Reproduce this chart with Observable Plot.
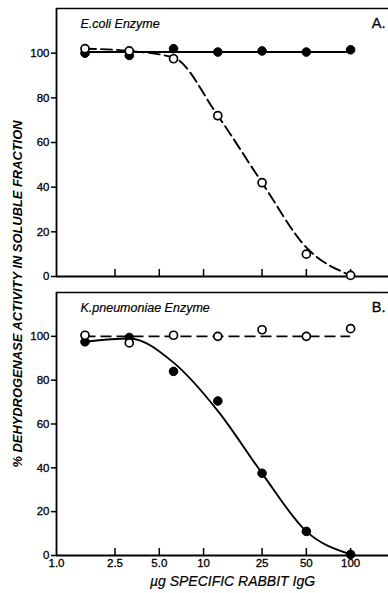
<!DOCTYPE html>
<html><head><meta charset="utf-8">
<script src="https://cdn.jsdelivr.net/npm/d3@7"></script>
<script src="https://cdn.jsdelivr.net/npm/@observablehq/plot@0.6"></script>
<style>
body{margin:0;background:#fff;}
#chart{position:relative;width:388px;height:593px;font-family:"Liberation Sans",Arial,sans-serif;}
#chart svg{display:block;overflow:visible;}
#ylab{position:absolute;left:0;top:0;}
</style></head><body><div id="chart"></div>
<script>
// IgG dose (µg), serial two-fold dilutions
const doses = [1.5625, 3.125, 6.25, 12.5, 25, 50, 100];
// Panel A: E. coli enzyme
const ecoliFilled = [100, 99, 102, 100.5, 101, 100.5, 101.5];
const ecoliOpen = [102, 101, 97.5, 72, 42, 10, 0.5];
const ecoliOpenFit = [102, 101, 98, 72, 42, 13, 0.5];
const ecoliFilledLevel = 100.5;
// Panel B: K. pneumoniae enzyme
const kpOpen = [100.5, 97, 100.5, 100, 103, 100, 103.5];
const kpFilled = [97.5, 99.5, 84, 70.5, 37.5, 11, 0.5];
const kpFilledFit = [97.5, 99, 88, 66, 37.5, 11, 0.5];
const kpOpenLevel = 100;
// Axis ticks
const xTicks = [1, 2.5, 5, 10, 25, 50, 100];
const xTickLabels = ["1.0", "2.5", "5.0", "10", "25", "50", "100"];
const yTicks = [0, 20, 40, 60, 80, 100];
const yMax = 120;
const xDomain = [1, 181];
const titles = ["E.coli Enzyme", "K.pneumoniae Enzyme"];
const letters = ["A.", "B."];
const xLabel = "µg SPECIFIC RABBIT IgG";
const yLabel = "% DEHYDROGENASE ACTIVITY IN SOLUBLE FRACTION";

const SW = 1.9;
const heavy = {fill: "black", stroke: "black", strokeWidth: 0.3, paintOrder: "normal"};
function panel(o) {
  const rows = doses.map((d, i) => ({dose: d, filled: o.filled[i], open: o.open[i], fit: o.fit[i]}));
  const marks = [
    Plot.ruleY([yMax], {strokeWidth: 1.7}),
    Plot.ruleY([0], {strokeWidth: 1.8}),
    Plot.ruleX([xDomain[0]], {strokeWidth: 1.8}),
    Plot.ruleX(xTicks.slice(1), {y1: 0, y2: 0, insetTop: -7, strokeWidth: 1.5}),
    Plot.ruleY(yTicks, {x1: xDomain[0], x2: xDomain[0], insetLeft: -5, strokeWidth: 1.5}),
    Plot.text(yTicks, {y: d => d, text: d => String(d), frameAnchor: "left", dx: -7, textAnchor: "end", fontSize: 11.5, ...heavy}),
    Plot.text([o.title], {frameAnchor: "top-left", dx: 24, dy: 11, fontStyle: "italic", fontSize: 12.5, ...heavy, strokeWidth: 0.2}),
    Plot.text([o.letter], {frameAnchor: "top-right", dx: -3, dy: 9, fontSize: 14.5, ...heavy}),
  ];
  // flat control level line
  marks.push(Plot.ruleY([o.level], {x1: doses[0], x2: doses[doses.length - 1], strokeWidth: SW, strokeDasharray: o.levelDash}));
  // fitted inhibition curve
  marks.push(Plot.line(rows, {x: "dose", y: "fit", curve: "monotone-x", strokeWidth: SW, strokeDasharray: o.fitDash}));
  marks.push(Plot.dot(rows, {x: "dose", y: "filled", r: 4.3, fill: "black", stroke: "black", strokeWidth: 1}));
  marks.push(Plot.dot(rows, {x: "dose", y: "open", r: 4, fill: "white", stroke: "black", strokeWidth: 1.7}));
  if (o.xLabels) {
    marks.push(Plot.text(xTicks, {x: d => d, text: (d, i) => xTickLabels[i], frameAnchor: "bottom", lineAnchor: "top", dy: 3, fontSize: 11.5, ...heavy}));
    marks.push(Plot.text([xLabel], {frameAnchor: "bottom", lineAnchor: "top", dy: 21, dx: 10, fontStyle: "italic", fontSize: 14, ...heavy, strokeWidth: 0.2}));
  }
  return Plot.plot({
    width: 388, height: o.height,
    marginLeft: 56, marginRight: 0, marginTop: o.marginTop, marginBottom: o.marginBottom,
    x: {type: "log", domain: xDomain, axis: null},
    y: {domain: [0, yMax], axis: null},
    style: {fontFamily: "'Liberation Sans', Arial, sans-serif", color: "black", background: "white", overflow: "visible"},
    marks
  });
}

const chart = document.getElementById("chart");
chart.appendChild(panel({
  filled: ecoliFilled, open: ecoliOpen, fit: ecoliOpenFit, level: ecoliFilledLevel,
  levelDash: null, fitDash: "11,5", title: titles[0], letter: letters[0],
  height: 285, marginTop: 8, marginBottom: 9, xLabels: false
}));
chart.appendChild(panel({
  filled: kpFilled, open: kpOpen, fit: kpFilledFit, level: kpOpenLevel,
  levelDash: "11,5", fitDash: null, title: titles[1], letter: letters[1],
  height: 308, marginTop: 7, marginBottom: 38, xLabels: true
}));

// shared y-axis label
const svg = d3.select(chart).append("svg").attr("id", "ylab").attr("width", 40).attr("height", 593);
svg.append("text")
  .attr("transform", "translate(22,294) rotate(-90)")
  .attr("text-anchor", "middle")
  .attr("font-family", "'Liberation Sans', Arial, sans-serif")
  .attr("font-size", 12.5).attr("font-weight", "bold").attr("font-style", "italic")
  .attr("textLength", 347).attr("lengthAdjust", "spacingAndGlyphs")
  .text(yLabel);
</script></body></html>
